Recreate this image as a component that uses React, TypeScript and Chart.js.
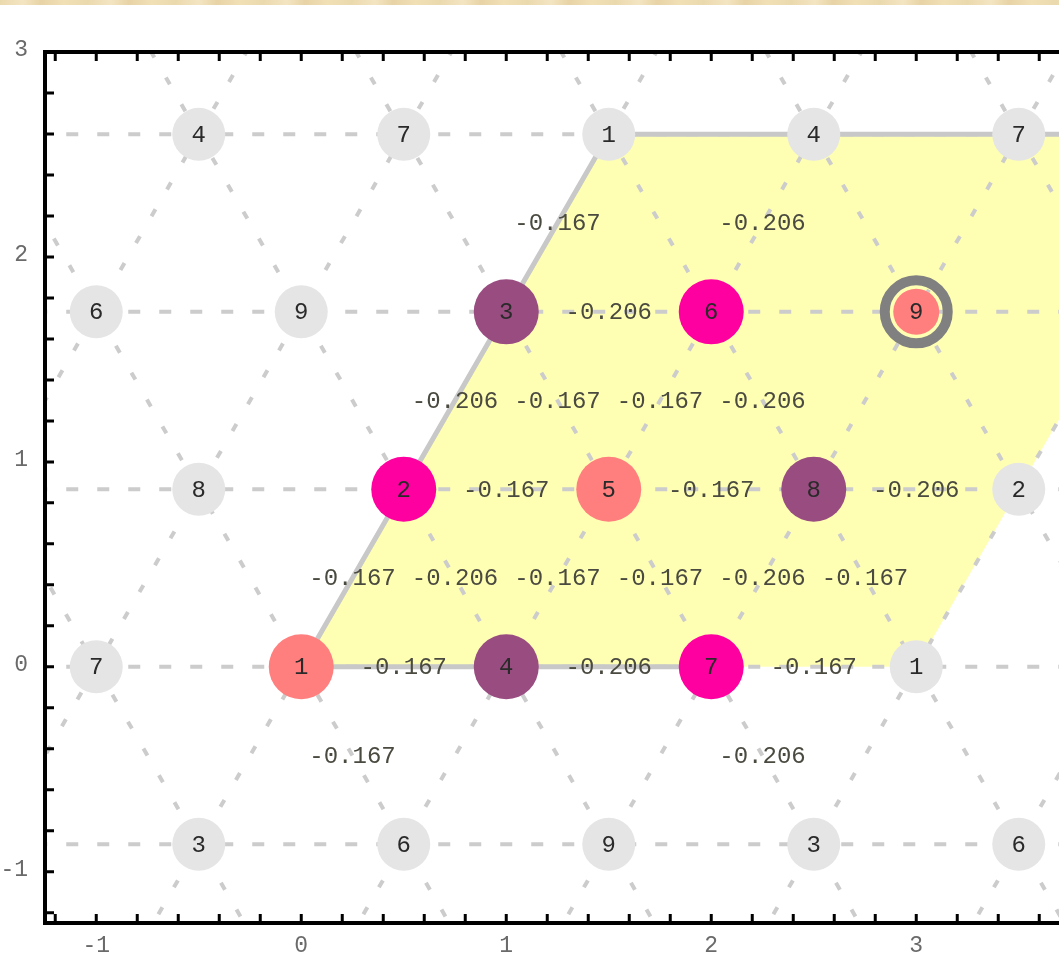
import React, { useEffect, useRef } from 'react';
import { Chart, registerables } from 'chart.js';

Chart.register(...registerables);

// row height of the triangular lattice (y = row * ROW)
const ROW = Math.sqrt(3) / 2;

// ---- lattice sites ----
const nodeX = [-0.5, 0.5, 1.5, 2.5, 3.5, -1, 0, 1, 2, 3, -0.5, 0.5, 1.5, 2.5, 3.5, -1, 0, 1, 2, 3, -0.5, 0.5, 1.5, 2.5, 3.5];
const nodeRow = [-1, -1, -1, -1, -1, 0, 0, 0, 0, 0, 1, 1, 1, 1, 1, 2, 2, 2, 2, 2, 3, 3, 3, 3, 3];
const nodeLabel = ['3', '6', '9', '3', '6', '7', '1', '4', '7', '1', '8', '2', '5', '8', '2', '6', '9', '3', '6', '9', '4', '7', '1', '4', '7'];
// g = gray image site, s = salmon, p = purple, m = magenta, r = salmon highlighted with ring
const nodeKind = ['g', 'g', 'g', 'g', 'g', 'g', 's', 'p', 'm', 'g', 'g', 'm', 's', 'p', 'g', 'g', 'g', 'p', 'm', 'r', 'g', 'g', 'g', 'g', 'g'];

// ---- bond values (placed at bond midpoints) ----
const bondX = [1.25, 2.25, 1.5, 0.75, 1.25, 1.75, 2.25, 1, 2, 3, 0.25, 0.75, 1.25, 1.75, 2.25, 2.75, 0.5, 1.5, 2.5, 0.25, 2.25];
const bondRow = [2.5, 2.5, 2, 1.5, 1.5, 1.5, 1.5, 1, 1, 1, 0.5, 0.5, 0.5, 0.5, 0.5, 0.5, 0, 0, 0, -0.5, -0.5];
const bondText = ['-0.167', '-0.206', '-0.206', '-0.206', '-0.167', '-0.167', '-0.206', '-0.167', '-0.167', '-0.206',
  '-0.167', '-0.206', '-0.167', '-0.167', '-0.206', '-0.167', '-0.167', '-0.206', '-0.167', '-0.167', '-0.206'];

// ---- lattice lines ----
const hLineRows = [-1, 0, 1, 2, 3];
const upLineOffsets = [-2, -1, 0, 1, 2, 3, 4];      // x - y/sqrt3 = c
const downLineOffsets = [-1, 0, 1, 2, 3, 4, 5];     // x + y/sqrt3 = c

// ---- unit cell ----
const cellX = [0, 3, 4.5, 1.5, 0];
const cellRow = [0, 0, 3, 3, 0];
const edgeX = [2, 0, 1.5, 4.5];
const edgeRow = [0, 0, 3, 3];

// ---- axes ----
const xMin = -1.25, xMax = 3.75, yMin = -1.25, yMax = 3;
const xTickVals = [-1, 0, 1, 2, 3];
const xTickLabels = ['-1', '0', '1', '2', '3'];
const yTickVals = [-1, 0, 1, 2, 3];
const yTickLabels = ['-1', '0', '1', '2', '3'];

const COLORS: Record<string, string> = { g: '#E5E5E5', s: '#FF7F7F', p: '#994C80', m: '#FF00A0', r: '#FF7F7F' };
const MONO = '"Liberation Mono", "DejaVu Sans Mono", monospace';

const overlay = {
  id: 'overlay',
  afterDatasetsDraw(chart: any) {
    const { ctx, chartArea: a } = chart;
    const xs = chart.scales.x, ys = chart.scales.y;
    ctx.save();
    ctx.font = '24px ' + MONO;
    ctx.textAlign = 'center';
    ctx.textBaseline = 'middle';
    // bond labels
    ctx.fillStyle = '#4a4a40';
    bondX.forEach((bx, i) => {
      ctx.fillText(bondText[i], xs.getPixelForValue(bx), ys.getPixelForValue(bondRow[i] * ROW) + 1);
    });
    // site labels
    ctx.fillStyle = '#2a2a2a';
    nodeX.forEach((nx, i) => {
      ctx.fillText(nodeLabel[i], xs.getPixelForValue(nx), ys.getPixelForValue(nodeRow[i] * ROW) + 1);
    });
    // frame
    ctx.strokeStyle = '#000';
    ctx.lineWidth = 4;
    ctx.strokeRect(a.left, a.top, a.right - a.left, a.bottom - a.top);
    ctx.lineWidth = 3;
    ctx.beginPath();
    for (let k = -6; k <= 18; k++) {
      const v = k * 0.2;
      if (v <= xMin || v >= xMax) continue;
      const px = xs.getPixelForValue(v);
      ctx.moveTo(px, a.top); ctx.lineTo(px, a.top + 9);
      ctx.moveTo(px, a.bottom); ctx.lineTo(px, a.bottom - 9);
    }
    for (let k = -6; k <= 15; k++) {
      const v = k * 0.2;
      if (v <= yMin || v >= yMax) continue;
      const py = ys.getPixelForValue(v);
      ctx.moveTo(a.left, py); ctx.lineTo(a.left + 9, py);
      ctx.moveTo(a.right, py); ctx.lineTo(a.right - 9, py);
    }
    ctx.stroke();
    // tick labels
    ctx.fillStyle = '#6a6a6a';
    ctx.font = '23px ' + MONO;
    ctx.textAlign = 'center';
    xTickVals.forEach((v, i) => ctx.fillText(xTickLabels[i], xs.getPixelForValue(v), a.bottom + 23));
    ctx.textAlign = 'right';
    yTickVals.forEach((v, i) => ctx.fillText(yTickLabels[i], 28, ys.getPixelForValue(v) - 2));
    ctx.restore();
  },
};

export default function App() {
  const ref = useRef<HTMLCanvasElement>(null);
  useEffect(() => {
    if (!ref.current) return;
    const datasets: any[] = [];
    // unit cell fill
    datasets.push({
      type: 'line',
      data: cellX.map((x, i) => ({ x, y: cellRow[i] * ROW })),
      fill: 'shape',
      backgroundColor: '#FFFFB4',
      borderWidth: 0,
      pointRadius: 0,
      order: 10,
      clip: 0,
    });
    // lattice dashed lines
    const yA = -1.6, yB = 3.4;
    hLineRows.forEach((r) => datasets.push({
      type: 'line', data: [{ x: -1.6, y: r * ROW }, { x: 4.2, y: r * ROW }],
      borderColor: '#CCCCCC', borderWidth: 4, borderDash: [12, 19], pointRadius: 0, order: 9, clip: 0,
    }));
    const k = 1 / Math.sqrt(3);
    upLineOffsets.forEach((c) => datasets.push({
      type: 'line', data: [{ x: c + yA * k, y: yA }, { x: c + yB * k, y: yB }],
      borderColor: '#CCCCCC', borderWidth: 4, borderDash: [8, 23], pointRadius: 0, order: 9, clip: 0,
    }));
    downLineOffsets.forEach((c) => datasets.push({
      type: 'line', data: [{ x: c - yB * k, y: yB }, { x: c - yA * k, y: yA }],
      borderColor: '#CCCCCC', borderWidth: 4, borderDash: [8, 23], pointRadius: 0, order: 9, clip: 0,
    }));
    // unit cell edges
    datasets.push({
      type: 'line', data: edgeX.map((x, i) => ({ x, y: edgeRow[i] * ROW })),
      borderColor: '#C8C8C8', borderWidth: 5, pointRadius: 0, fill: false, order: 8, clip: 0,
    });
    // gray image sites
    const gi = nodeX.map((_, i) => i).filter((i) => nodeKind[i] === 'g');
    datasets.push({
      type: 'scatter', data: gi.map((i) => ({ x: nodeX[i], y: nodeRow[i] * ROW })),
      pointRadius: 26.5, pointBackgroundColor: COLORS.g, pointBorderWidth: 0, borderWidth: 0, order: 7,
    });
    // coloured cell sites
    const ci = nodeX.map((_, i) => i).filter((i) => nodeKind[i] !== 'g');
    datasets.push({
      type: 'scatter', data: ci.map((i) => ({ x: nodeX[i], y: nodeRow[i] * ROW })),
      pointRadius: ci.map((i) => (nodeKind[i] === 'r' ? 23 : 32.5)),
      pointBackgroundColor: ci.map((i) => COLORS[nodeKind[i]]),
      pointBorderWidth: 0, borderWidth: 0, order: 6,
    });
    // highlight ring
    const ri = nodeX.map((_, i) => i).filter((i) => nodeKind[i] === 'r');
    datasets.push({
      type: 'scatter', data: ri.map((i) => ({ x: nodeX[i], y: nodeRow[i] * ROW })),
      pointRadius: 31.5, pointBackgroundColor: 'rgba(0,0,0,0)', pointBorderColor: '#808080',
      pointBorderWidth: 10, borderWidth: 10, order: 5,
    });

    const chart = new Chart(ref.current, {
      type: 'scatter',
      data: { datasets },
      options: {
        responsive: false,
        animation: false,
        events: [],
        layout: { autoPadding: false, padding: { left: 45, top: 52, right: 30, bottom: 31 } },
        plugins: { legend: { display: false }, tooltip: { enabled: false } },
        scales: {
          x: { type: 'linear', min: xMin, max: xMax, display: false },
          y: { type: 'linear', min: yMin, max: yMax, display: false },
        },
      },
      plugins: [overlay],
    } as any);
    return () => chart.destroy();
  }, []);

  return (
    <div style={{ position: 'fixed', left: 0, top: 0, width: 1059, height: 954, overflow: 'hidden', background: '#FFFFFF' }}>
      <canvas ref={ref} width={1100} height={954} style={{ position: 'absolute', left: 0, top: 0 }} />
      <div style={{
        position: 'absolute', left: 0, top: 0, width: 1059, height: 5, zIndex: 2,
        background: 'repeating-linear-gradient(90deg, #EBD9AE 0px, #F4E5C2 23px, #E7D3A5 41px, #F1DFB6 63px, #EBD9AE 88px)',
      }} />
    </div>
  );
}
